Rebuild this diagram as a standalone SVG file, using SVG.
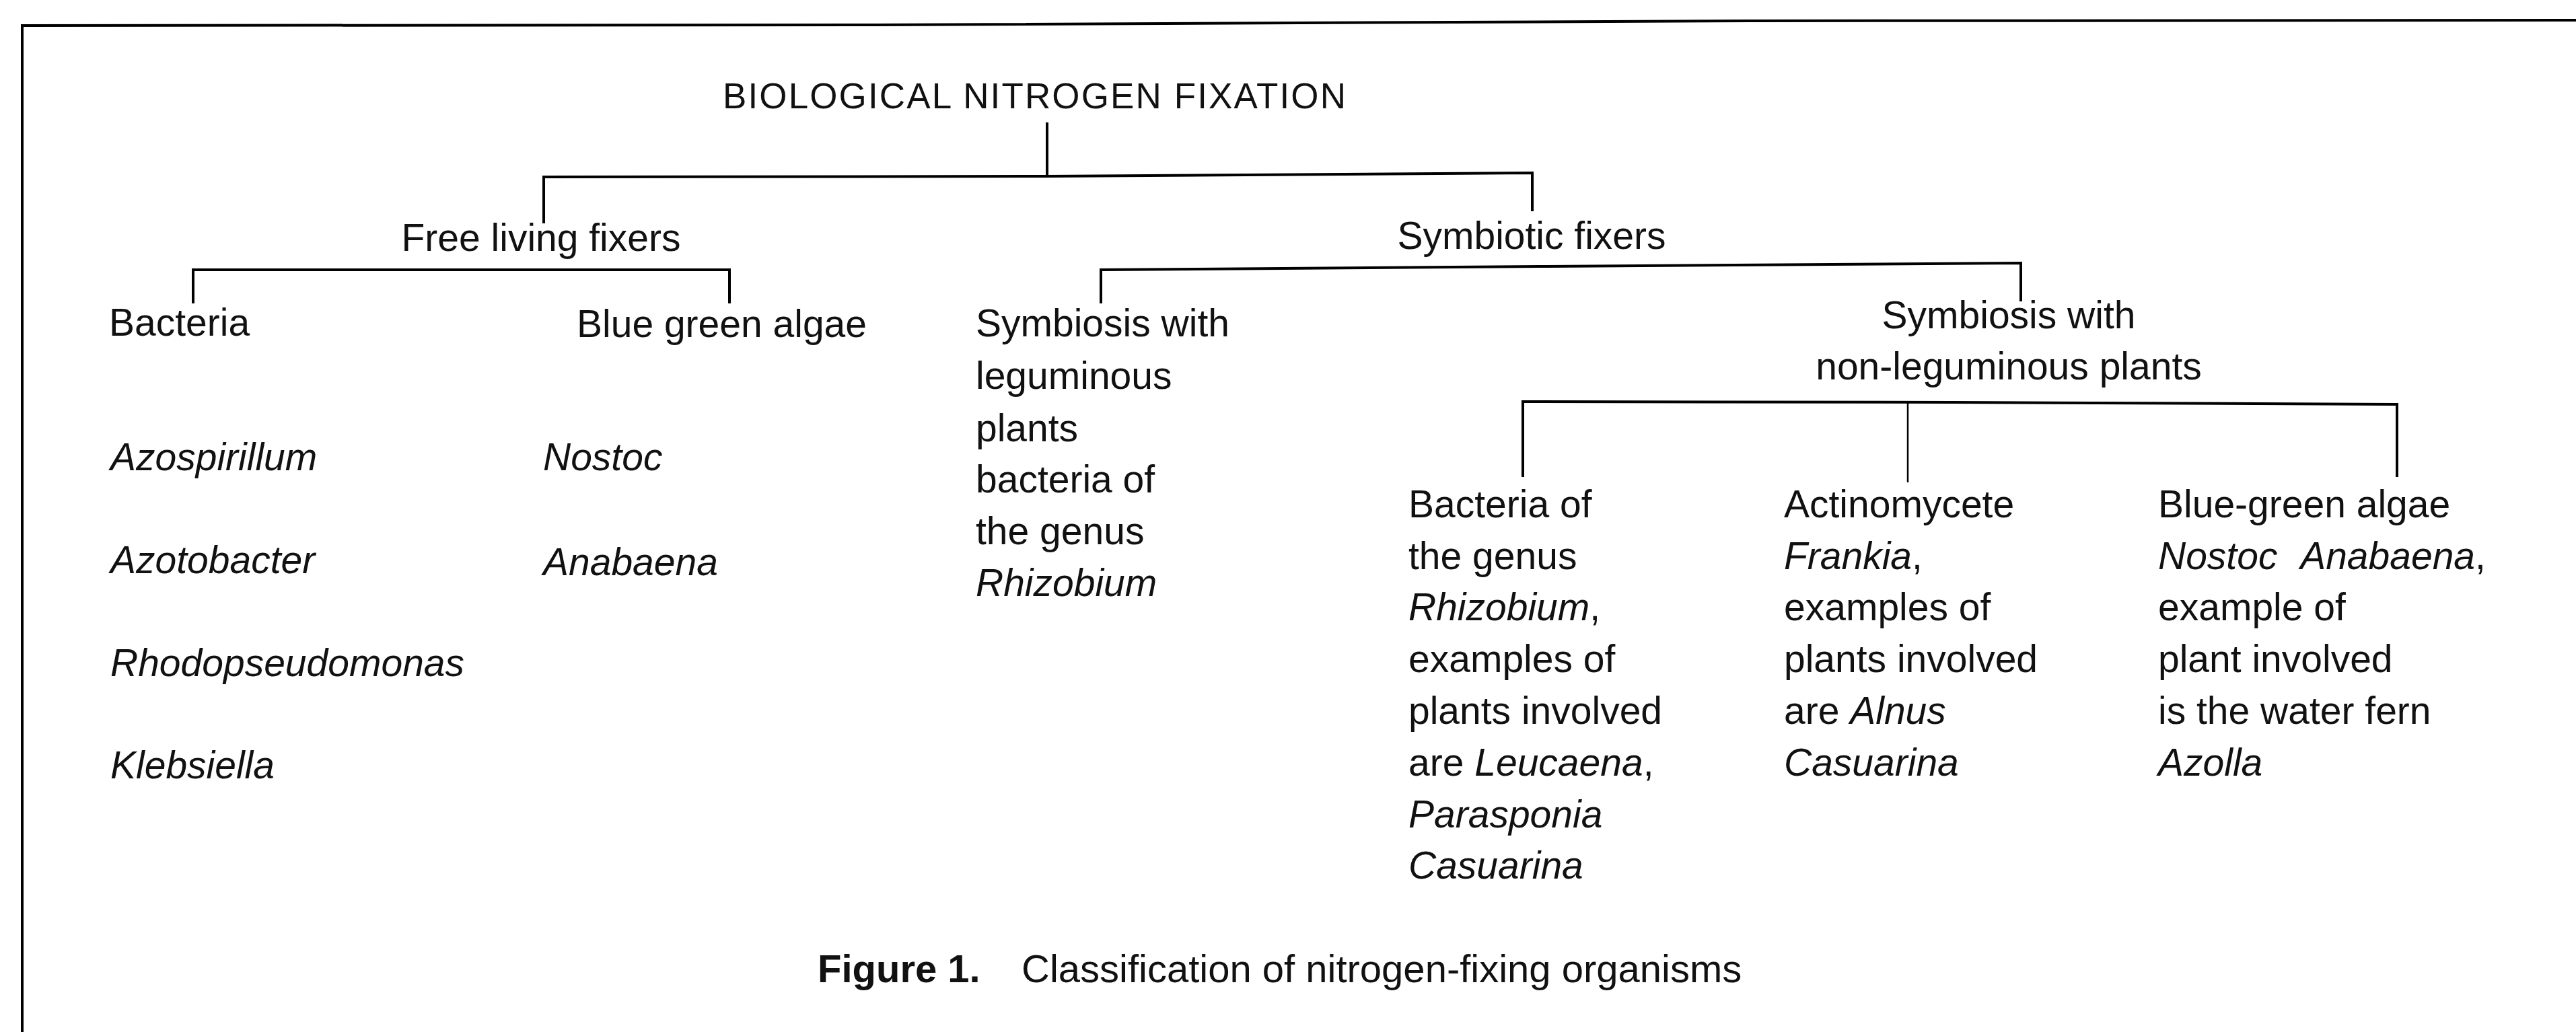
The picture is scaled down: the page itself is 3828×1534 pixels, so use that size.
<svg xmlns="http://www.w3.org/2000/svg" width="3828" height="1534" viewBox="0 0 3828 1534">
<style>
.t{font-family:"Liberation Sans",Arial,sans-serif;font-size:57px;fill:#111}
.i{font-style:italic}
.ttl{font-family:"Liberation Sans",Arial,sans-serif;font-size:53px;fill:#111}
.cap{font-family:"Liberation Sans",Arial,sans-serif;font-size:58px;fill:#111}
.b{font-weight:bold}
.ln{stroke:#000;stroke-width:4;fill:none;stroke-linecap:square}
.thin{stroke:#000;stroke-width:2.5;fill:none}
</style>
<rect width="3828" height="1534" fill="#fff"/>
<g id="frame">
<polyline class="ln" points="33,1534 33,38 1300,37 2600,31 3828,30"/>
</g>
<g id="connectors">
<line class="ln" x1="1556" y1="184" x2="1556" y2="262"/>
<polyline class="ln" points="808,330 808,263 1556,262 2277,257 2277,312"/>
<polyline class="ln" points="287,449 287,401 1084,401 1084,449"/>
<polyline class="ln" points="1636,449 1636,401 2300,396 3003,391 3003,446"/>
<polyline class="ln" points="2263,707 2263,597 2900,598 3562,601 3562,707"/>
<line class="thin" x1="2835" y1="598" x2="2835" y2="717"/>
</g>
<g id="root"><text class="ttl" x="1074" y="161" textLength="926" lengthAdjust="spacing">BIOLOGICAL NITROGEN FIXATION</text></g>
<g id="free"><text class="t" x="804" y="373" text-anchor="middle">Free living fixers</text></g>
<g id="symb"><text class="t" x="2276" y="370" text-anchor="middle">Symbiotic fixers</text></g>
<g id="bacteria">
<text class="t" x="162" y="499">Bacteria</text>
<text class="t i" x="164" y="699">Azospirillum</text>
<text class="t i" x="164" y="852">Azotobacter</text>
<text class="t i" x="164" y="1005">Rhodopseudomonas</text>
<text class="t i" x="164" y="1157">Klebsiella</text>
</g>
<g id="bga">
<text class="t" x="857" y="501">Blue green algae</text>
<text class="t i" x="807" y="699">Nostoc</text>
<text class="t i" x="807" y="855">Anabaena</text>
</g>
<g id="legum">
<text class="t" x="1450" y="500">Symbiosis with</text>
<text class="t" x="1450" y="578">leguminous</text>
<text class="t" x="1450" y="656">plants</text>
<text class="t" x="1450" y="732">bacteria of</text>
<text class="t" x="1450" y="809">the genus</text>
<text class="t i" x="1450" y="886">Rhizobium</text>
</g>
<g id="nonlegum">
<text class="t" x="2985" y="488" text-anchor="middle">Symbiosis with</text>
<text class="t" x="2985" y="564" text-anchor="middle">non-leguminous plants</text>
</g>
<g id="rhizobium">
<text class="t" x="2093" y="769">Bacteria of</text>
<text class="t" x="2093" y="846">the genus</text>
<text class="t" x="2093" y="922"><tspan class="i">Rhizobium</tspan>,</text>
<text class="t" x="2093" y="999">examples of</text>
<text class="t" x="2093" y="1076">plants involved</text>
<text class="t" x="2093" y="1153">are <tspan class="i">Leucaena</tspan>,</text>
<text class="t i" x="2093" y="1230">Parasponia</text>
<text class="t i" x="2093" y="1306">Casuarina</text>
</g>
<g id="frankia">
<text class="t" x="2651" y="769">Actinomycete</text>
<text class="t" x="2651" y="846"><tspan class="i">Frankia</tspan>,</text>
<text class="t" x="2651" y="922">examples of</text>
<text class="t" x="2651" y="999">plants involved</text>
<text class="t" x="2651" y="1076">are <tspan class="i">Alnus</tspan></text>
<text class="t i" x="2651" y="1153">Casuarina</text>
</g>
<g id="azolla">
<text class="t" x="3207" y="769">Blue-green algae</text>
<text class="t" x="3207" y="846"><tspan class="i">Nostoc</tspan><tspan class="i" dx="20"> Anabaena</tspan>,</text>
<text class="t" x="3207" y="922">example of</text>
<text class="t" x="3207" y="999">plant involved</text>
<text class="t" x="3207" y="1076">is the water fern</text>
<text class="t i" x="3207" y="1153">Azolla</text>
</g>
<g id="caption">
<text class="cap" y="1460"><tspan class="b" x="1215">Figure 1.</tspan><tspan x="1518">Classification of nitrogen-fixing organisms</tspan></text>
</g>
</svg>
